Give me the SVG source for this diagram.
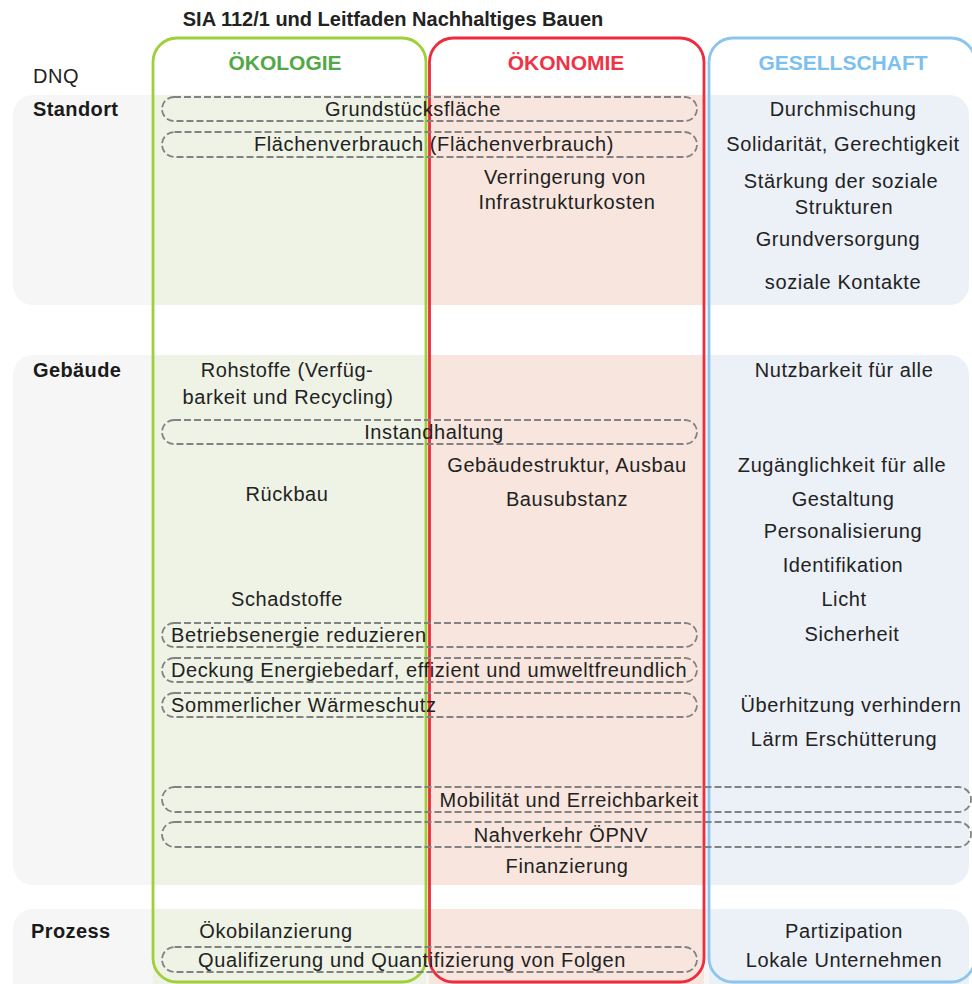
<svg xmlns="http://www.w3.org/2000/svg" width="972" height="984" viewBox="0 0 972 984">
  <style>
    text { font-family: "Liberation Sans", Arial, sans-serif; }
    .t { font-size: 20px; letter-spacing: 0.6px; fill: #222; }
    .c { text-anchor: middle; }
    .row { font-size: 20px; font-weight: bold; letter-spacing: 0.4px; fill: #1a1a1a; }
    .title { font-size: 20px; font-weight: bold; fill: #222; }
    .hdr { font-size: 21px; font-weight: bold; text-anchor: middle; }
    .band { fill: #f6f6f6; }
    .pill { fill: none; stroke: #828282; stroke-width: 1.8; stroke-dasharray: 7 3; }
    .col { fill: none; stroke-width: 2.8; }
  </style>
  <defs>
    <clipPath id="bandClip">
      <rect x="13" y="95" width="956" height="210" rx="20"/>
      <rect x="13" y="355" width="956" height="530" rx="20"/>
      <rect x="13" y="909" width="956" height="110" rx="20"/>
    </clipPath>
  </defs>

  <rect width="972" height="984" fill="#ffffff"/>

  <!-- row bands -->
  <g id="bands">
    <rect class="band" x="13" y="95" width="956" height="210" rx="20"/>
    <rect class="band" x="13" y="355" width="956" height="530" rx="20"/>
    <rect class="band" x="13" y="909" width="956" height="110" rx="20"/>
  </g>

  <!-- column tints inside the bands -->
  <g id="tints" clip-path="url(#bandClip)">
    <rect x="153" y="38" width="273" height="960" fill="#eff3e6"/>
    <rect x="429" y="38" width="275" height="960" fill="#f8e6de"/>
    <rect x="709" y="38" width="263" height="960" fill="#ecf0f7"/>
  </g>

  <!-- column frames -->
  <g id="col-oekologie">
    <rect class="col" x="153" y="38" width="273" height="944" rx="24" stroke="#9fcf3a"/>
    <text class="hdr" x="285" y="70" fill="#52a848">ÖKOLOGIE</text>
  </g>
  <g id="col-oekonomie">
    <rect class="col" x="429.5" y="38" width="274.5" height="944" rx="24" stroke="#ef2b3e"/>
    <text class="hdr" x="566" y="70" fill="#ef3346">ÖKONOMIE</text>
  </g>
  <g id="col-gesellschaft">
    <rect class="col" x="709" y="38" width="266" height="944" rx="24" stroke="#8cc6ee"/>
    <text class="hdr" x="843" y="70" fill="#7cc0ee">GESELLSCHAFT</text>
  </g>

  <!-- title and row labels -->
  <g id="title">
    <text class="title" x="393" y="26" text-anchor="middle">SIA 112/1 und Leitfaden Nachhaltiges Bauen</text>
  </g>
  <g id="row-labels">
    <text class="t" x="33" y="83">DNQ</text>
    <text class="row" x="33" y="116">Standort</text>
    <text class="row" x="33" y="377">Gebäude</text>
    <text class="row" x="31" y="938">Prozess</text>
  </g>

  <!-- dashed spanning items -->
  <g id="pill-grundstueck">
    <rect class="pill" x="162" y="97" width="535" height="24" rx="12"/>
    <text class="t c" x="413" y="116">Grundstücksfläche</text>
  </g>
  <g id="pill-flaechenverbrauch">
    <rect class="pill" x="162" y="132" width="535" height="25" rx="12.5"/>
    <text class="t c" x="434" y="151">Flächenverbrauch (Flächenverbrauch)</text>
  </g>
  <g id="pill-instandhaltung">
    <rect class="pill" x="162" y="420" width="535" height="24" rx="12"/>
    <text class="t c" x="434" y="439">Instandhaltung</text>
  </g>
  <g id="pill-betriebsenergie">
    <rect class="pill" x="162" y="623" width="535" height="24" rx="12"/>
    <text class="t" x="171" y="642">Betriebsenergie reduzieren</text>
  </g>
  <g id="pill-deckung">
    <rect class="pill" x="162" y="658" width="535" height="24" rx="12"/>
    <text class="t" x="171" y="677">Deckung Energiebedarf, effizient und umweltfreundlich</text>
  </g>
  <g id="pill-waermeschutz">
    <rect class="pill" x="162" y="693" width="535" height="24" rx="12"/>
    <text class="t" x="171" y="712">Sommerlicher Wärmeschutz</text>
  </g>
  <g id="pill-mobilitaet">
    <rect class="pill" x="162" y="787" width="809" height="25" rx="12.5"/>
    <text class="t c" x="569" y="807">Mobilität und Erreichbarkeit</text>
  </g>
  <g id="pill-nahverkehr">
    <rect class="pill" x="162" y="822" width="809" height="25" rx="12.5"/>
    <text class="t c" x="561" y="842">Nahverkehr ÖPNV</text>
  </g>
  <g id="pill-folgen">
    <rect class="pill" x="162" y="947" width="535" height="25" rx="12.5"/>
    <text class="t c" x="412" y="967">Qualifizerung und Quantifizierung von Folgen</text>
  </g>

  <!-- Standort items -->
  <g id="standort-oekonomie">
    <text class="t c" x="565" y="184">Verringerung von</text>
    <text class="t c" x="567" y="209">Infrastrukturkosten</text>
  </g>
  <g id="standort-gesellschaft">
    <text class="t c" x="843" y="116">Durchmischung</text>
    <text class="t c" x="843" y="151">Solidarität, Gerechtigkeit</text>
    <text class="t c" x="841" y="188">Stärkung der soziale</text>
    <text class="t c" x="844" y="214">Strukturen</text>
    <text class="t c" x="838" y="246">Grundversorgung</text>
    <text class="t c" x="843" y="289">soziale Kontakte</text>
  </g>

  <!-- Gebäude items -->
  <g id="gebaeude-oekologie">
    <text class="t c" x="287" y="377">Rohstoffe (Verfüg-</text>
    <text class="t c" x="288" y="404">barkeit und Recycling)</text>
    <text class="t c" x="287" y="501">Rückbau</text>
    <text class="t c" x="287" y="606">Schadstoffe</text>
  </g>
  <g id="gebaeude-oekonomie">
    <text class="t c" x="567" y="472">Gebäudestruktur, Ausbau</text>
    <text class="t c" x="567" y="506">Bausubstanz</text>
    <text class="t c" x="567" y="873">Finanzierung</text>
  </g>
  <g id="gebaeude-gesellschaft">
    <text class="t c" x="844" y="377">Nutzbarkeit für alle</text>
    <text class="t c" x="842" y="472">Zugänglichkeit für alle</text>
    <text class="t c" x="843" y="506">Gestaltung</text>
    <text class="t c" x="843" y="538">Personalisierung</text>
    <text class="t c" x="843" y="572">Identifikation</text>
    <text class="t c" x="844" y="606">Licht</text>
    <text class="t c" x="852" y="641">Sicherheit</text>
    <text class="t c" x="851" y="712">Überhitzung verhindern</text>
    <text class="t c" x="844" y="746">Lärm Erschütterung</text>
  </g>

  <!-- Prozess items -->
  <g id="prozess-oekologie">
    <text class="t c" x="276" y="938">Ökobilanzierung</text>
  </g>
  <g id="prozess-gesellschaft">
    <text class="t c" x="844" y="938">Partizipation</text>
    <text class="t c" x="844" y="967">Lokale Unternehmen</text>
  </g>
</svg>
